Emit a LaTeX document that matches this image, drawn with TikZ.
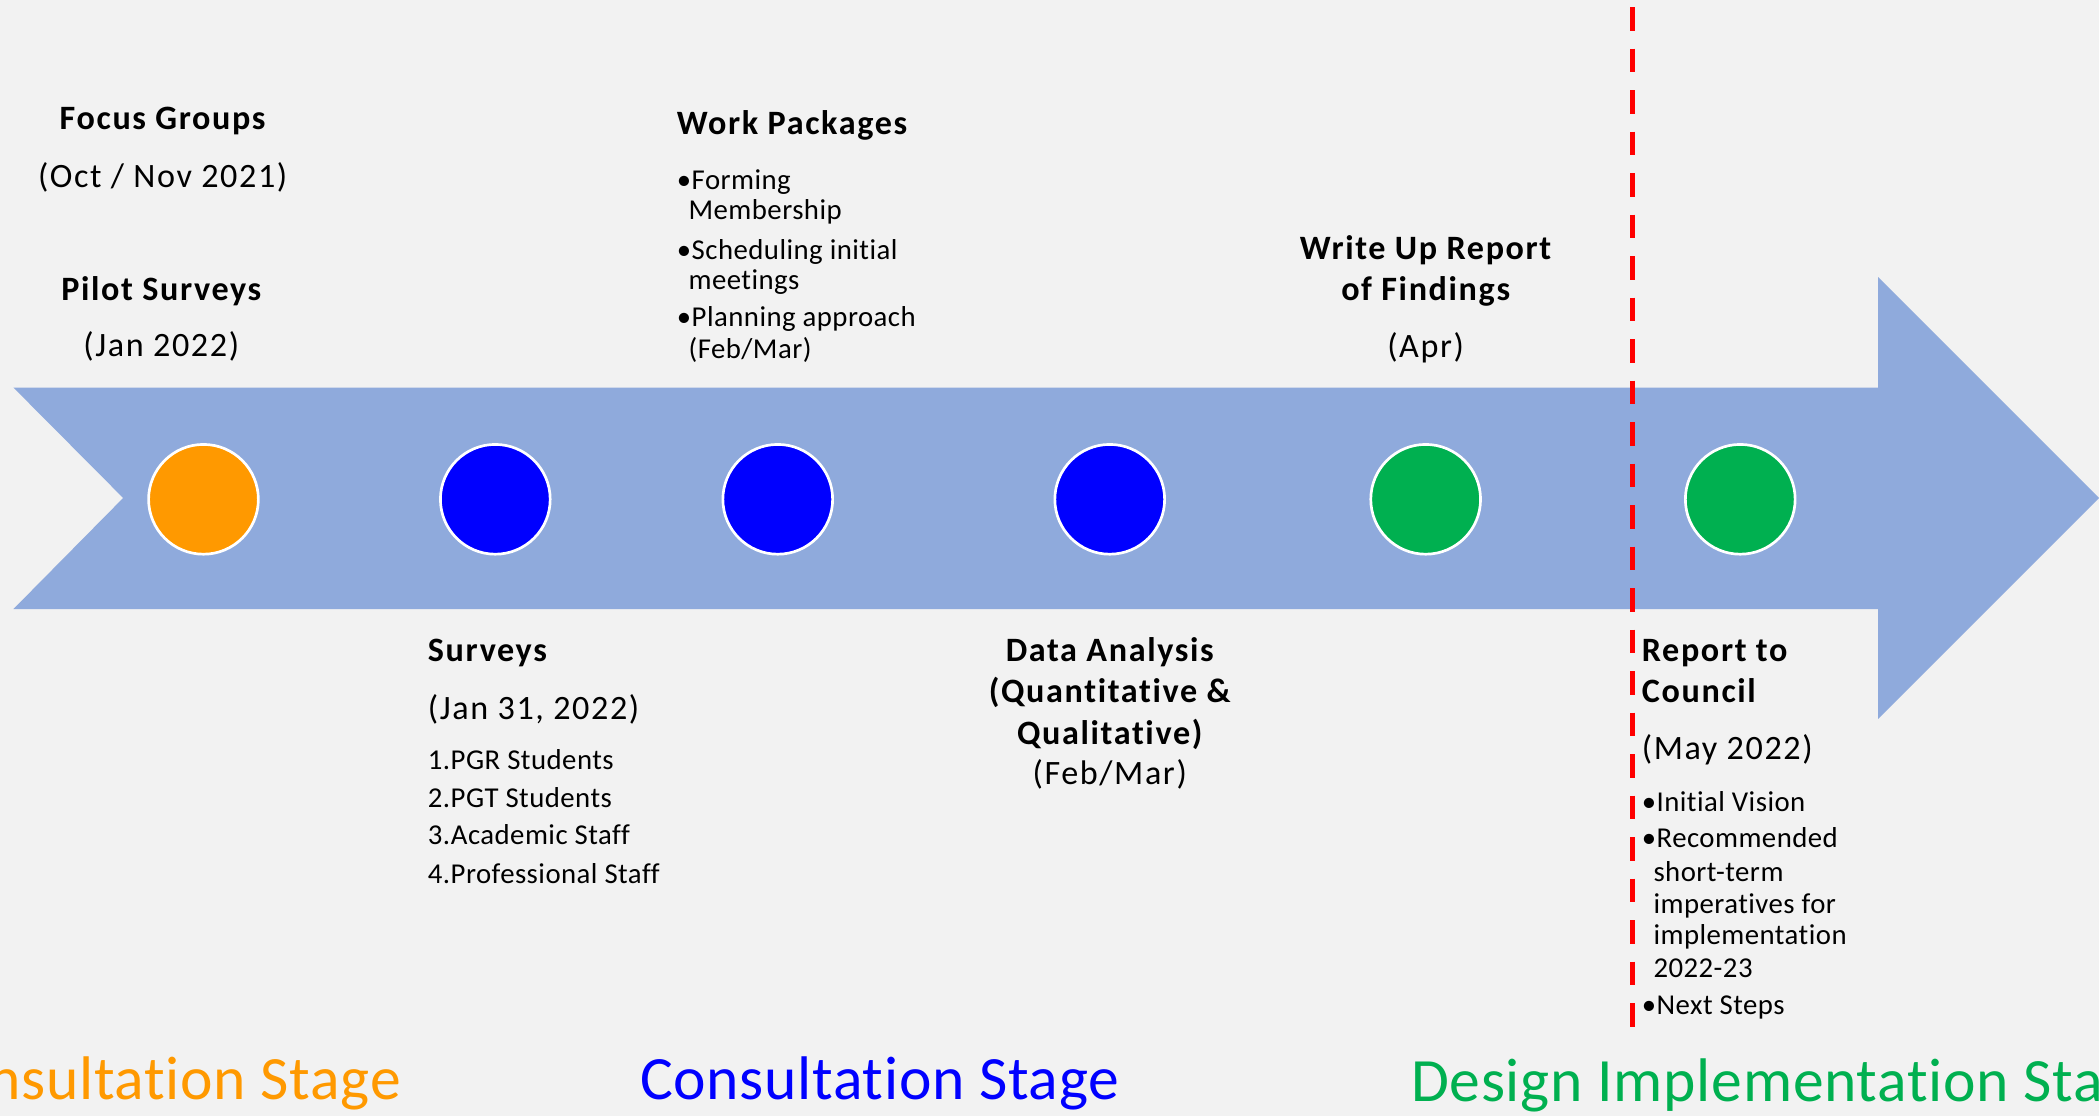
\documentclass[tikz,border=0pt]{standalone}
\usepackage{fontspec}
\setmainfont{Carlito}[Ligatures=NoCommon]
\newfontfamily\hdfont{Carlito}[LetterSpace=4.8,Ligatures=NoCommon]
\newfontfamily\dtfont{Carlito}[LetterSpace=4.7,Ligatures=NoCommon]
\newfontfamily\lstfont{Carlito}[LetterSpace=1.6,Ligatures=NoCommon]
\newfontfamily\stgfont{Carlito}[LetterSpace=1.2,Ligatures=NoCommon]
\definecolor{bgc}{HTML}{F2F2F2}
\definecolor{arrowc}{HTML}{8FAADC}
\definecolor{orangec}{HTML}{FF9900}
\definecolor{bluec}{HTML}{0000FF}
\definecolor{greenc}{HTML}{00B050}
\definecolor{redc}{HTML}{FF0000}
\begin{document}
\begin{tikzpicture}[x=1pt,y=-1pt,
  head/.style={font=\hdfont\fontsize{25.5}{30}\selectfont\bfseries, inner sep=0pt},
  datetxt/.style={font=\dtfont\fontsize{25.5}{30}\selectfont, inner sep=0pt},
  itemtxt/.style={font=\lstfont\fontsize{21.5}{24}\selectfont, inner sep=0pt, anchor=base west},
  stagetxt/.style={font=\stgfont\fontsize{46}{50}\selectfont, inner sep=0pt},
  dot/.style={circle, draw=white, line width=2pt, minimum size=82pt, inner sep=0pt},
  reddash/.style={draw=redc, line width=3.5pt, dash pattern=on 17.7pt off 13.3pt, dash phase=25.7pt}
]
\useasboundingbox (0,0) rectangle (1568,834);
\fill[bgc] (0,0) rectangle (1568,834);
% arrow
\fill[arrowc] (10,289.5) -- (1403,289.5) -- (1403,207) -- (1568,372) -- (1403,537) -- (1403,455) -- (10,455) -- (92,372) -- cycle;
% dots
\node[dot, fill=orangec] (c1) at (152,373) {};
\node[dot, fill=bluec] (c2) at (370,373) {};
\node[dot, fill=bluec] (c3) at (581,373) {};
\node[dot, fill=bluec] (c4) at (829,373) {};
\node[dot, fill=greenc] (c5) at (1065,373) {};
\node[dot, fill=greenc] (c6) at (1300,373) {};
% red dashed line
\coordinate (rtop) at (1219.5,0);
\coordinate (rbot) at (1219.5,776);
\draw[reddash] (rtop) -- (rbot);
% Focus groups / pilot surveys
\node[head, anchor=base] (fg) at (121.5,96.6) {Focus Groups};
\node[datetxt, anchor=base] (fgd) at (121.5,139.9) {(Oct / Nov 2021)};
\node[head, anchor=base] (ps) at (120.5,224.6) {Pilot Surveys};
\node[datetxt, anchor=base] (psd) at (120.5,266.4) {(Jan 2022)};
% Work packages
\node[head, anchor=base west] (wp) at (505.5,100.8) {Work Packages};
\node[itemtxt] (wp1) at (505.5,141.9) {\textbullet Forming};
\node[itemtxt] (wp2) at (514.2,164.3) {Membership};
\node[itemtxt] (wp3) at (505.5,194.2) {\textbullet Scheduling initial};
\node[itemtxt] (wp4) at (514.2,216.6) {meetings};
\node[itemtxt] (wp5) at (505.5,244.0) {\textbullet Planning approach};
\node[itemtxt] (wp6) at (514.2,267.7) {(Feb/Mar)};
% Write up
\node[head, anchor=base] (wu1) at (1065,193.5) {Write Up Report};
\node[head, anchor=base] (wu2) at (1065,224.5) {of Findings};
\node[datetxt, anchor=base] (wud) at (1065,267.3) {(Apr)};
% Surveys
\node[head, anchor=base west] (sv) at (319.5,494.3) {Surveys};
\node[datetxt, anchor=base west] (svd) at (319.5,537.3) {(Jan 31, 2022)};
\node[itemtxt] (sv1) at (319.5,575.2) {1.PGR Students};
\node[itemtxt] (sv2) at (319.5,603.1) {2.PGT Students};
\node[itemtxt] (sv3) at (319.5,631.2) {3.Academic Staff};
\node[itemtxt] (sv4) at (319.5,659.8) {4.Professional Staff};
% Data analysis
\node[head, anchor=base] (da1) at (829,494) {Data Analysis};
\node[head, anchor=base] (da2) at (829,524.9) {(Quantitative \&};
\node[head, anchor=base] (da3) at (829,555.8) {Qualitative)};
\node[datetxt, anchor=base] (dad) at (829,586.4) {(Feb/Mar)};
% Report to council
\node[head, anchor=base west] (rc1) at (1226.3,494.3) {Report to};
\node[head, anchor=base west] (rc2) at (1226.3,524.9) {Council};
\node[datetxt, anchor=base west] (rcd) at (1226.3,567.7) {(May 2022)};
\node[itemtxt] (rc3) at (1226.3,606.3) {\textbullet Initial Vision};
\node[itemtxt] (rc4) at (1226.3,633.0) {\textbullet Recommended};
\node[itemtxt] (rc5) at (1235,658.6) {short-term};
\node[itemtxt] (rc6) at (1235,682.3) {imperatives for};
\node[itemtxt] (rc7) at (1235,705.9) {implementation};
\node[itemtxt] (rc8) at (1235,730.0) {2022-23};
\node[itemtxt] (rc9) at (1226.3,758.2) {\textbullet Next Steps};
% stages
\node[stagetxt, anchor=base east, text=orangec] (st1) at (299.7,821.7) {Consultation Stage};
\node[stagetxt, anchor=base west, text=bluec] (st2) at (477.9,821.5) {Consultation Stage};
\node[stagetxt, anchor=base west, text=greenc] (st3) at (1054,823) {Design Implementation Stage};
\end{tikzpicture}
\end{document}
